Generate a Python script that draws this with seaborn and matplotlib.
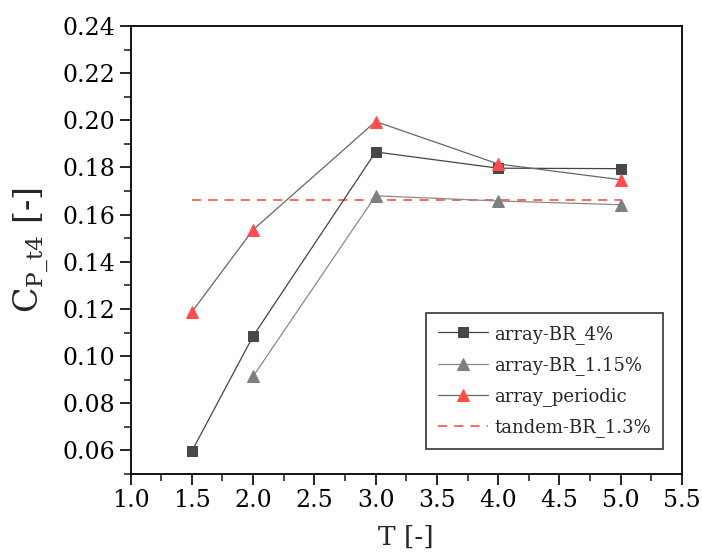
import matplotlib
matplotlib.use("Agg")
import matplotlib.pyplot as plt
import seaborn as sns
import pandas as pd
from matplotlib.ticker import MultipleLocator

# Data
T_br4 = [1.5, 2.0, 3.0, 4.0, 5.0]
cp_br4 = [0.0597, 0.1085, 0.1866, 0.1797, 0.1795]
T_br115 = [2.0, 3.0, 4.0, 5.0]
cp_br115 = [0.0914, 0.1680, 0.1658, 0.1642]
T_periodic = [1.5, 2.0, 3.0, 4.0, 5.0]
cp_periodic = [0.1187, 0.1536, 0.1995, 0.1815, 0.1748]
T_tandem = [1.5, 5.0]
cp_tandem = [0.1661, 0.1661]

labels = ["array-BR_4%", "array-BR_1.15%", "array_periodic", "tandem-BR_1.3%"]

sns.set_theme(style="ticks")
plt.rcParams["font.family"] = ["DejaVu Serif"]
plt.rcParams["mathtext.fontset"] = "dejavuserif"

fig = plt.figure(figsize=(7.02, 5.58), dpi=100)
ax = fig.add_axes([0.186, 0.1505, 0.9715 - 0.186, 0.9534 - 0.1505])

df4 = pd.DataFrame({"T": T_br4, "cp": cp_br4})
df115 = pd.DataFrame({"T": T_br115, "cp": cp_br115})
dfp = pd.DataFrame({"T": T_periodic, "cp": cp_periodic})
dft = pd.DataFrame({"T": T_tandem, "cp": cp_tandem})

sns.lineplot(data=dft, x="T", y="cp", ax=ax, color="#ff5a5a", lw=1.3,
             linestyle=(0, (5, 4)), label=labels[3], zorder=2)
sns.lineplot(data=df115, x="T", y="cp", ax=ax, color="#8a8a8a", lw=0.9,
             marker="^", markersize=9, markerfacecolor="#7f7f7f",
             markeredgecolor="#7f7f7f", label=labels[1], zorder=3)
sns.lineplot(data=df4, x="T", y="cp", ax=ax, color="#444444", lw=0.9,
             marker="s", markersize=7, markerfacecolor="#484848",
             markeredgecolor="#484848", label=labels[0], zorder=4)
sns.lineplot(data=dfp, x="T", y="cp", ax=ax, color="#666666", lw=0.9,
             marker="^", markersize=9, markerfacecolor="#ff4d4d",
             markeredgecolor="#ff4d4d", label=labels[2], zorder=5)

ax.set_xlim(1.0, 5.5)
ax.set_ylim(0.05, 0.24)
ax.xaxis.set_major_locator(MultipleLocator(0.5))
ax.xaxis.set_minor_locator(MultipleLocator(0.25))
ax.yaxis.set_minor_locator(MultipleLocator(0.01))
ax.set_yticks([0.06, 0.08, 0.10, 0.12, 0.14, 0.16, 0.18, 0.20, 0.22, 0.24])
ax.yaxis.set_major_formatter(matplotlib.ticker.FormatStrFormatter("%.2f"))
ax.xaxis.set_major_formatter(matplotlib.ticker.FormatStrFormatter("%.1f"))

ax.tick_params(axis="both", which="major", direction="out", length=8, width=1.2,
               labelsize=17, colors="black", pad=3)
ax.tick_params(axis="both", which="minor", direction="out", length=5, width=1.2)
for s in ax.spines.values():
    s.set_linewidth(1.3)
    s.set_color("black")

ax.set_xlabel("T [-]", fontsize=19, labelpad=9)
ax.set_ylabel(r"C$_{\mathregular{P\_t4}}$ [-]", fontsize=24, labelpad=8)

handles, labs = ax.get_legend_handles_labels()
order = [labs.index(l) for l in labels]
leg = ax.legend([handles[i] for i in order], [labs[i] for i in order],
                loc="lower right", bbox_to_anchor=(0.9655, 0.0558),
                borderaxespad=0, fontsize=13, frameon=True, fancybox=False,
                handlelength=2.8, labelspacing=0.68, borderpad=0.65,
                handletextpad=0.35)
leg.get_frame().set_edgecolor("#333333")
leg.get_frame().set_linewidth(1.2)
leg.get_frame().set_alpha(1)

fig.savefig("out.png", dpi=100)
